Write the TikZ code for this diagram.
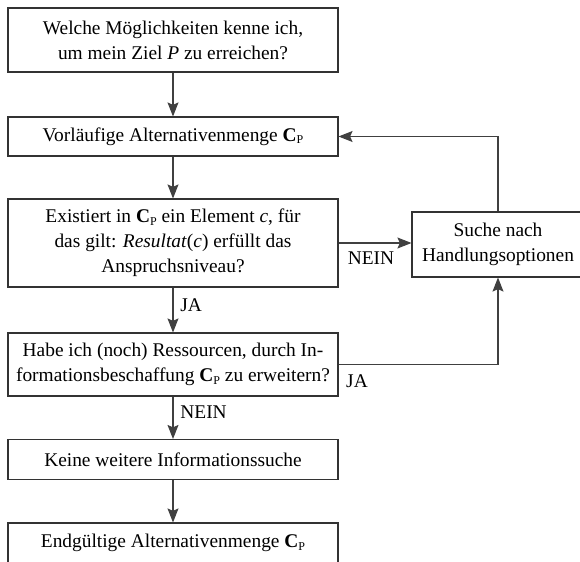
\documentclass[tikz,border=0pt]{standalone}
\usepackage{fontspec}
\setmainfont{Liberation Serif}
\usetikzlibrary{arrows.meta}
\newcommand{\CPsym}{\textbf{C}\raisebox{-0.3ex}{\fontsize{6}{6}\selectfont P}}
\begin{document}
\begin{tikzpicture}[x=0.5pt,y=-0.5pt,
  box/.style={draw=black!80, line width=0.55pt, rectangle, inner sep=0pt, align=center,
    font=\fontsize{9.7}{12.5}\selectfont, minimum width=165pt},
  arr/.style={draw=black!75, line width=0.55pt, -{Stealth[length=7pt,width=5.5pt,inset=1.2pt]}},
  lbl/.style={font=\fontsize{9.7}{12}\selectfont, inner sep=0pt}]
\useasboundingbox (0,0) rectangle (580,562);
\clip (0,0) rectangle (580,562);
\node[box, minimum height=32pt] (b1) at (173,40) {Welche Möglichkeiten kenne ich,\\um mein Ziel \textit{P} zu erreichen?};
\node[box, minimum height=19.5pt] (b2) at (173,136.5) {Vorläufige Alternativenmenge \CPsym};
\node[box, minimum height=44pt] (b3) at (173,243) {Existiert in \CPsym{} ein Element \textit{c}, für\\das gilt: \textit{Resultat}(\textit{c}) erfüllt das\\Anspruchsniveau?};
\node[box, minimum height=31.5pt] (b4) at (173,364.5) {Habe ich (noch) Ressourcen, durch In-\\formationsbeschaffung \CPsym{} zu erweitern?};
\node[box, minimum height=20pt] (b5) at (173,459.5) {Keine weitere Informationssuche};
\node[box, minimum height=20pt] (b6) at (173,543) {Endgültige Alternativenmenge \CPsym};
\node[box, minimum width=86pt, minimum height=32.5pt] (r) at (498,244.5) {Suche nach\\Handlungsoptionen};
\draw[arr] (b1) -- (b2);
\draw[arr] (b2) -- (b3);
\draw[arr] (b3) -- (b4);
\draw[arr] (b4) -- (b5);
\draw[arr] (b5) -- (b6);
\draw[arr] (b3.east) -- (b3.east -| r.west);
\draw[arr] (r.north) -- (r.north |- b2.east) -- (b2.east);
\draw[arr] (b4.east) -- (b4.east -| r.south) -- (r.south);
\node[lbl, anchor=west] (ja1) at (180,305) {JA};
\node[lbl, anchor=west] (nein1) at (180,412) {NEIN};
\node[lbl] (nein2) at (371,258) {NEIN};
\node[lbl] (ja2) at (357,381) {JA};
\end{tikzpicture}
\end{document}
